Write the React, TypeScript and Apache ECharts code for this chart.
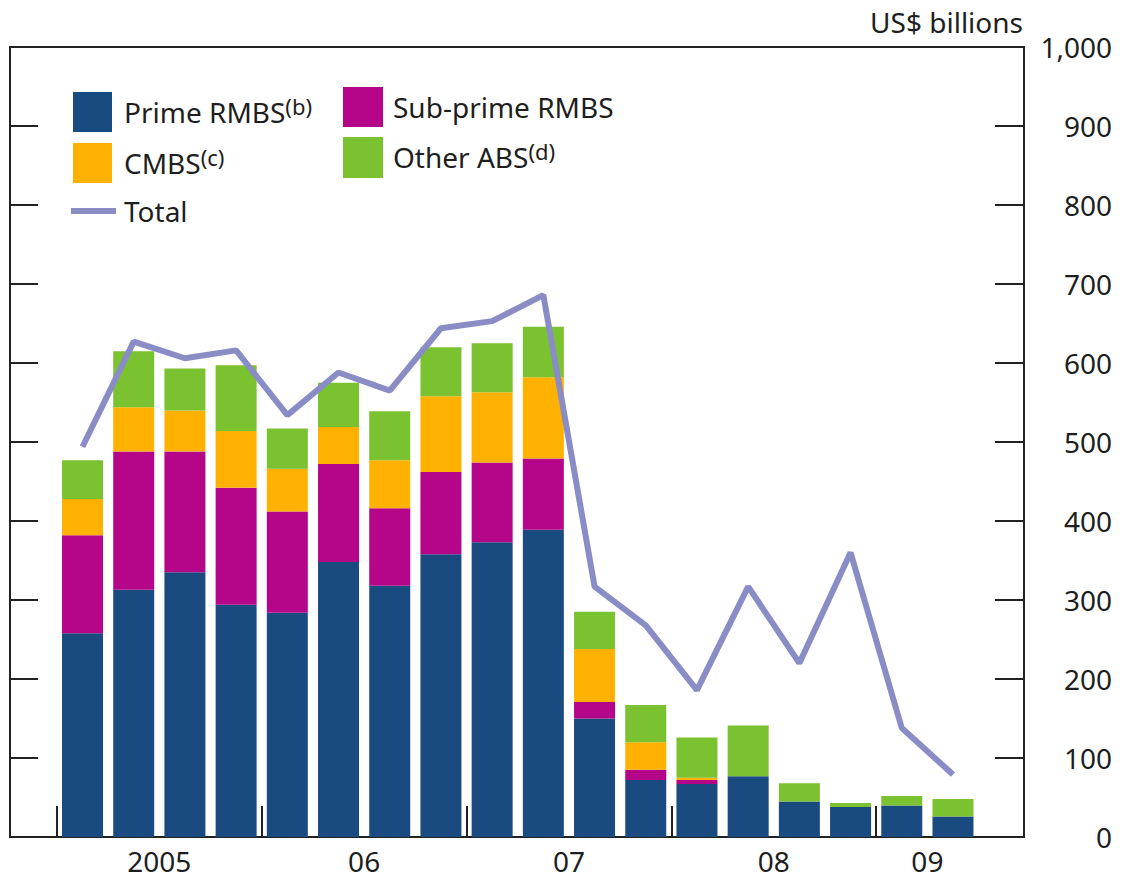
import React, { useEffect, useRef } from "react";
import * as echarts from "echarts";

// Quarterly positions (2005 Q1 .. 2009 Q2), US$ billions
const quarters = [
  "2005Q1", "2005Q2", "2005Q3", "2005Q4",
  "2006Q1", "2006Q2", "2006Q3", "2006Q4",
  "2007Q1", "2007Q2", "2007Q3", "2007Q4",
  "2008Q1", "2008Q2", "2008Q3", "2008Q4",
  "2009Q1", "2009Q2",
];
const primeRMBS = [258, 313, 335, 294, 284, 348, 318, 358, 373, 389, 150, 72, 67, 77, 45, 38, 40, 26];
const subprimeRMBS = [124, 175, 153, 148, 128, 124, 98, 104, 101, 90, 21, 13, 5, 0, 0, 0, 0, 0];
const cmbs = [46, 56, 52, 72, 54, 47, 61, 96, 89, 103, 67, 35, 3, 0, 0, 0, 0, 0];
const otherABS = [49, 71, 53, 83, 51, 56, 62, 62, 62, 64, 47, 47, 51, 64, 23, 5, 12, 22];
const total = [494, 627, 606, 616, 534, 588, 565, 644, 653, 686, 317, 268, 186, 317, 220, 360, 138, 79];

const yearLabels = ["2005", "06", "07", "08", "09"];
const yearLabelPos = [1.5, 5.5, 9.5, 13.5, 16.5];
const yearSeparators = [-0.5, 3.5, 7.5, 11.5, 15.5];

const COLORS = {
  prime: "#1a4b80",
  subprime: "#b5068a",
  cmbs: "#ffb100",
  other: "#7ac230",
  total: "#8a8dc5",
};

const FONT = "Noto Sans";
const TXT = "#1e1e1e";

export default function App() {
  const ref = useRef<HTMLDivElement>(null);

  useEffect(() => {
    if (!ref.current) return;
    const chart = echarts.init(ref.current, null, { renderer: "svg" });
    // [value, position] so that the value dimension is the stacked one
    const pts = (arr: number[]) => arr.map((v, i) => [v, i]);
    const barCommon = {
      type: "bar" as const,
      stack: "s",
      barWidth: 41,
      xAxisIndex: 0,
      yAxisIndex: 0,
      encode: { x: 1, y: 0 },
    };
    const legendText = (main: string, sup: string) => ({
      text: sup ? `{a|${main}}{s|${sup}}` : `{a|${main}}`,
      rich: {
        a: { fontSize: 28, fontFamily: FONT, fill: TXT, lineHeight: 34, verticalAlign: "middle" },
        s: { fontSize: 22, fontFamily: FONT, fill: TXT, lineHeight: 24, verticalAlign: "top" },
      },
      verticalAlign: "middle",
      align: "left",
    });

    chart.setOption({
      animation: false,
      backgroundColor: "#ffffff",
      grid: {
        left: 10,
        right: 99,
        top: 47,
        bottom: 42,
        show: true,
        borderColor: "#222",
        borderWidth: 2,
        backgroundColor: "transparent",
      },
      xAxis: {
        type: "value",
        min: -1.416,
        max: 18.387,
        splitLine: { show: false },
        axisLine: { show: true, onZero: false, lineStyle: { color: "#222", width: 2 } },
        axisTick: {
          show: true,
          inside: true,
          length: 31,
          customValues: yearSeparators,
          lineStyle: { color: "#222", width: 2 },
        },
        axisLabel: {
          show: true,
          customValues: yearLabelPos,
          formatter: (v: number) => {
            const idx = yearLabelPos.indexOf(v);
            return idx >= 0 ? yearLabels[idx] : "";
          },
          fontSize: 28,
          fontFamily: FONT,
          color: TXT,
          margin: 10,
        },
      },
      yAxis: [
        {
          type: "value",
          position: "left",
          min: 0,
          max: 1000,
          interval: 100,
          splitLine: { show: false },
          axisLine: { show: true, onZero: false, lineStyle: { color: "#222", width: 2 } },
          axisTick: { show: true, inside: true, length: 28, lineStyle: { color: "#222", width: 2 } },
          axisLabel: { show: false },
        },
        {
          type: "value",
          position: "right",
          min: 0,
          max: 1000,
          interval: 100,
          splitLine: { show: false },
          axisLine: { show: true, onZero: false, lineStyle: { color: "#222", width: 2 } },
          axisTick: { show: true, inside: true, length: 29, lineStyle: { color: "#222", width: 2 } },
          axisLabel: {
            show: true,
            align: "right",
            margin: 88,
            fontSize: 28,
            fontFamily: FONT,
            color: TXT,
            formatter: (v: number) => v.toLocaleString("en-US"),
          },
        },
      ],
      series: [
        { ...barCommon, name: "Prime RMBS", data: pts(primeRMBS), itemStyle: { color: COLORS.prime } },
        { ...barCommon, name: "Sub-prime RMBS", data: pts(subprimeRMBS), itemStyle: { color: COLORS.subprime } },
        { ...barCommon, name: "CMBS", data: pts(cmbs), itemStyle: { color: COLORS.cmbs } },
        { ...barCommon, name: "Other ABS", data: pts(otherABS), itemStyle: { color: COLORS.other } },
        {
          type: "line",
          name: "Total",
          data: total.map((v, i) => [i, v]),
          symbol: "none",
          lineStyle: { color: COLORS.total, width: 6 },
          z: 5,
        },
      ],
      graphic: [
        {
          type: "text",
          right: 100,
          top: 8,
          style: { text: "US$ billions", fontSize: 28, fontFamily: FONT, fill: TXT },
        },
        // legend column 1
        { type: "rect", shape: { x: 73, y: 92, width: 39, height: 40 }, style: { fill: COLORS.prime } },
        { type: "text", x: 124, y: 112, style: legendText("Prime RMBS", "(b)") },
        { type: "rect", shape: { x: 73, y: 143, width: 39, height: 40 }, style: { fill: COLORS.cmbs } },
        { type: "text", x: 124, y: 163, style: legendText("CMBS", "(c)") },
        {
          type: "line",
          shape: { x1: 71, y1: 211, x2: 116, y2: 211 },
          style: { stroke: COLORS.total, lineWidth: 6 },
        },
        { type: "text", x: 124, y: 211, style: legendText("Total", "") },
        // legend column 2
        { type: "rect", shape: { x: 343, y: 87, width: 40, height: 40 }, style: { fill: COLORS.subprime } },
        { type: "text", x: 393, y: 107, style: legendText("Sub-prime RMBS", "") },
        { type: "rect", shape: { x: 343, y: 137, width: 40, height: 41 }, style: { fill: COLORS.other } },
        { type: "text", x: 393, y: 157, style: legendText("Other ABS", "(d)") },
      ],
    });
    return () => chart.dispose();
  }, []);

  return (
    <div
      ref={ref}
      style={{ position: "fixed", left: 0, top: 0, width: 1123, height: 879 }}
    />
  );
}
